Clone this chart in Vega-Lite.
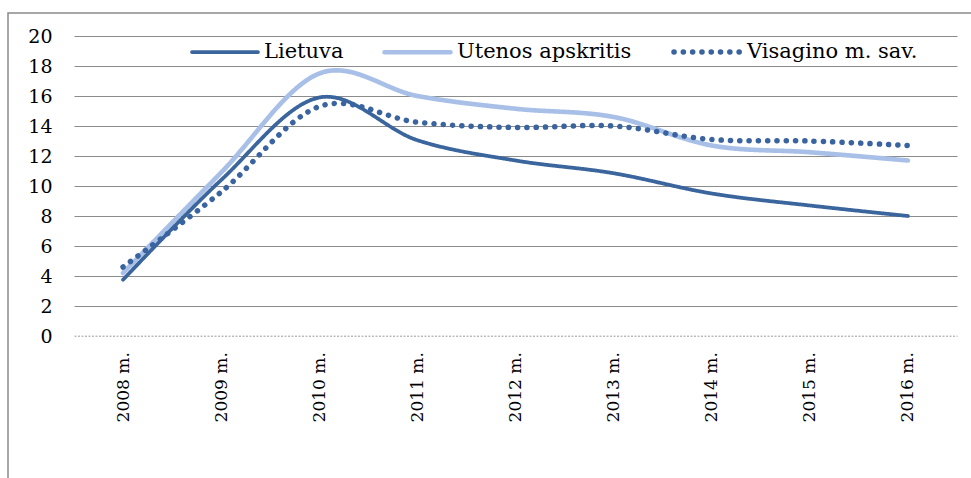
{
  "$schema": "https://vega.github.io/schema/vega-lite/v6.json",
  "width": 966,
  "height": 470,
  "autosize": {"type": "none"},
  "padding": {"left": 8, "top": 13, "right": 0, "bottom": 0},
  "background": "white",
  "config": {
    "view": {"stroke": "#8a8a8a", "strokeWidth": 1.5},
    "font": "DejaVu Serif"
  },
  "data": {
    "values": [
      {"year": "2008 m.", "series": "Utenos apskritis", "value": 4.2},
      {"year": "2009 m.", "series": "Utenos apskritis", "value": 10.9},
      {"year": "2010 m.", "series": "Utenos apskritis", "value": 17.5},
      {"year": "2011 m.", "series": "Utenos apskritis", "value": 16.0},
      {"year": "2012 m.", "series": "Utenos apskritis", "value": 15.15},
      {"year": "2013 m.", "series": "Utenos apskritis", "value": 14.6},
      {"year": "2014 m.", "series": "Utenos apskritis", "value": 12.7},
      {"year": "2015 m.", "series": "Utenos apskritis", "value": 12.25},
      {"year": "2016 m.", "series": "Utenos apskritis", "value": 11.7},
      {"year": "2008 m.", "series": "Lietuva", "value": 3.75},
      {"year": "2009 m.", "series": "Lietuva", "value": 10.4},
      {"year": "2010 m.", "series": "Lietuva", "value": 15.9},
      {"year": "2011 m.", "series": "Lietuva", "value": 13.05},
      {"year": "2012 m.", "series": "Lietuva", "value": 11.7},
      {"year": "2013 m.", "series": "Lietuva", "value": 10.85},
      {"year": "2014 m.", "series": "Lietuva", "value": 9.5},
      {"year": "2015 m.", "series": "Lietuva", "value": 8.7},
      {"year": "2016 m.", "series": "Lietuva", "value": 8.0},
      {"year": "2008 m.", "series": "Visagino m. sav.", "value": 4.6},
      {"year": "2009 m.", "series": "Visagino m. sav.", "value": 9.6},
      {"year": "2010 m.", "series": "Visagino m. sav.", "value": 15.3},
      {"year": "2011 m.", "series": "Visagino m. sav.", "value": 14.25},
      {"year": "2012 m.", "series": "Visagino m. sav.", "value": 13.9},
      {"year": "2013 m.", "series": "Visagino m. sav.", "value": 14.0},
      {"year": "2014 m.", "series": "Visagino m. sav.", "value": 13.1},
      {"year": "2015 m.", "series": "Visagino m. sav.", "value": 13.0},
      {"year": "2016 m.", "series": "Visagino m. sav.", "value": 12.7}
    ]
  },
  "mark": {"type": "line", "interpolate": "cardinal", "strokeCap": "round"},
  "encoding": {
    "x": {
      "field": "year",
      "type": "ordinal",
      "sort": null,
      "scale": {"type": "point", "range": [66, 949], "padding": 0.5},
      "axis": {
        "title": null,
        "orient": "bottom",
        "offset": -147.3,
        "labelAngle": -90,
        "labelAlign": "right",
        "labelBaseline": "middle",
        "labelPadding": 16,
        "labelFontSize": 17,
        "labelFont": "DejaVu Serif",
        "labelColor": "black",
        "ticks": false,
        "grid": false,
        "domain": true,
        "domainColor": "#9a9a9a",
        "domainDash": [2, 1.5],
        "domainWidth": 1
      }
    },
    "y": {
      "field": "value",
      "type": "quantitative",
      "scale": {"domain": [0, 20], "range": [323, 23], "nice": false},
      "axis": {
        "title": null,
        "orient": "left",
        "offset": -66,
        "values": [0, 2, 4, 6, 8, 10, 12, 14, 16, 18, 20],
        "ticks": false,
        "domain": false,
        "labelPadding": 22,
        "labelFontSize": 19,
        "labelFont": "DejaVu Serif",
        "labelColor": "black",
        "grid": true,
        "gridColor": "#8c8c8c",
        "gridWidth": 1,
        "gridOpacity": {"condition": {"test": "datum.value === 0", "value": 0}, "value": 1}
      }
    },
    "color": {
      "field": "series",
      "type": "nominal",
      "scale": {
        "domain": ["Lietuva", "Utenos apskritis", "Visagino m. sav."],
        "range": ["#3b659d", "#a8c0e7", "#3a64a0"]
      },
      "legend": {
        "orient": "none",
        "legendX": 182,
        "legendY": 3,
        "direction": "horizontal",
        "title": null,
        "symbolType": "stroke",
        "symbolSize": 4356,
        "labelFontSize": 21,
        "labelFont": "DejaVu Serif",
        "labelColor": "black",
        "labelLimit": 0,
        "labelOffset": 4,
        "columnPadding": 31,
        "padding": 0,
        "encode": {"symbols": {"update": {"strokeCap": {"value": "round"}}}}
      }
    },
    "strokeDash": {
      "field": "series",
      "type": "nominal",
      "scale": {
        "domain": ["Lietuva", "Utenos apskritis", "Visagino m. sav."],
        "range": [[1, 0], [1, 0], [0.1, 9.2]]
      },
      "legend": {
        "orient": "none",
        "legendX": 182,
        "legendY": 3,
        "direction": "horizontal",
        "title": null,
        "symbolType": "stroke",
        "symbolSize": 4356,
        "labelFontSize": 21,
        "labelFont": "DejaVu Serif",
        "labelColor": "black",
        "labelLimit": 0,
        "labelOffset": 4,
        "columnPadding": 31,
        "padding": 0,
        "encode": {"symbols": {"update": {"strokeCap": {"value": "round"}}}}
      }
    },
    "strokeWidth": {
      "field": "series",
      "type": "nominal",
      "scale": {
        "domain": ["Lietuva", "Utenos apskritis", "Visagino m. sav."],
        "range": [3.75, 5.5, 4]
      },
      "legend": {
        "orient": "none",
        "legendX": 182,
        "legendY": 3,
        "direction": "horizontal",
        "title": null,
        "symbolType": "stroke",
        "symbolSize": 4356,
        "labelFontSize": 21,
        "labelFont": "DejaVu Serif",
        "labelColor": "black",
        "labelLimit": 0,
        "labelOffset": 4,
        "columnPadding": 31,
        "padding": 0,
        "encode": {"symbols": {"update": {"strokeCap": {"value": "round"}}}}
      }
    }
  }
}
